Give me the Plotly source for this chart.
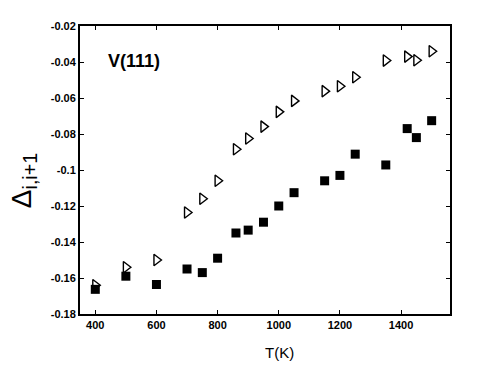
import plotly.graph_objects as go

# open triangles (upper series)
tri_t = [400, 500, 600, 700, 750, 800, 860, 900, 950, 1000, 1050, 1150, 1200, 1250, 1350, 1420, 1450, 1500]
tri_d = [-0.164, -0.154, -0.150, -0.1236, -0.116, -0.106, -0.0885, -0.0825, -0.0759, -0.0677,
         -0.0616, -0.0562, -0.0535, -0.0485, -0.0392, -0.037, -0.039, -0.034]

# filled squares (lower series)
sq_t = [400, 500, 600, 700, 750, 800, 860, 900, 950, 1000, 1050, 1150, 1200, 1250, 1350, 1420, 1450, 1500]
sq_d = [-0.1663, -0.159, -0.1636, -0.155, -0.157, -0.149, -0.135, -0.1334, -0.129, -0.120,
        -0.1126, -0.106, -0.103, -0.0912, -0.0972, -0.077, -0.082, -0.0726]

x_ticks = [400, 600, 800, 1000, 1200, 1400]
x_labels = ["400", "600", "800", "1000", "1200", "1400"]
y_ticks = [-0.02, -0.04, -0.06, -0.08, -0.1, -0.12, -0.14, -0.16, -0.18]
y_labels = ["-0.02", "-0.04", "-0.06", "-0.08", "-0.1", "-0.12", "-0.14", "-0.16", "-0.18"]

fig = go.Figure()
fig.add_trace(go.Scatter(
    x=sq_t, y=sq_d, mode="markers",
    marker=dict(symbol="square", size=9, color="black", line=dict(width=0)),
    showlegend=False,
))
fig.add_trace(go.Scatter(
    x=tri_t, y=tri_d, mode="markers",
    marker=dict(symbol="triangle-right-open", size=10, color="black", line=dict(width=1.4)),
    showlegend=False,
))

fig.add_annotation(
    x=0.146, y=0.877, xref="paper", yref="paper", showarrow=False,
    xanchor="center", yanchor="middle",
    text="<b>V(111)</b>", font=dict(size=18, color="black", family="Arial"),
)
fig.add_annotation(
    x=0.538, y=-0.133, xref="paper", yref="paper", showarrow=False,
    xanchor="center", yanchor="middle",
    text="T(K)", font=dict(size=15, color="black", family="Arial"),
)
fig.add_annotation(
    x=-0.152, y=0.464, xref="paper", yref="paper", showarrow=False,
    xanchor="center", yanchor="middle", textangle=-90,
    text="Δ<sub>i,i+1</sub>",
    font=dict(size=28, color="black", family="Arial"),
)

axis_common = dict(
    showline=True, linecolor="black", linewidth=2, mirror="ticks",
    ticks="inside", ticklen=4, tickwidth=1, tickcolor="black",
    showgrid=False, zeroline=False,
    tickfont=dict(size=11, color="black", family="Arial"),
)

fig.update_xaxes(
    range=[350, 1560], tickvals=x_ticks,
    ticktext=[f"<b>{t}</b>" for t in x_labels],
    **axis_common,
)
fig.update_yaxes(
    range=[-0.18, -0.02], tickvals=y_ticks,
    ticktext=[f"<b>{t}</b>" for t in y_labels],
    **axis_common,
)

fig.update_layout(
    width=491, height=368,
    margin=dict(l=72, r=49, t=13, b=62),
    paper_bgcolor="white", plot_bgcolor="white",
)

fig.write_html("out.html")
